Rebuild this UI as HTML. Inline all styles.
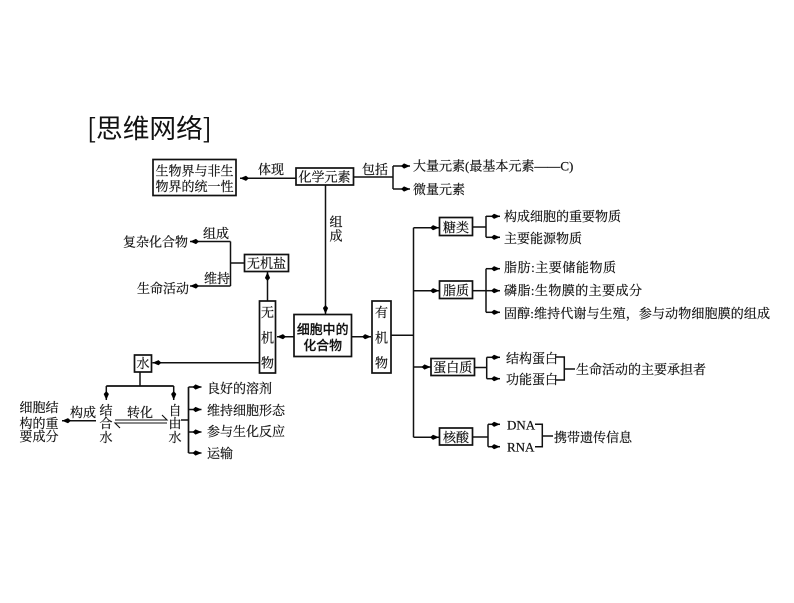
<!DOCTYPE html>
<html><head><meta charset="utf-8">
<style>
html,body{margin:0;padding:0;background:#fff;width:794px;height:603px;overflow:hidden}
svg{display:block;filter:blur(.3px)}
text{font-family:"Liberation Serif","Noto Serif CJK SC",serif;font-size:13px;fill:#111;stroke:#111;stroke-width:.2}
.l{stroke:#111;stroke-width:1.5;fill:none}
.b{stroke:#111;stroke-width:1.7;fill:#fff}
.m{text-anchor:middle}
</style></head><body>
<svg width="794" height="603" viewBox="0 0 794 603" xmlns="http://www.w3.org/2000/svg">
<defs><marker id="a" markerUnits="userSpaceOnUse" markerWidth="10" markerHeight="6" refX="9" refY="3" orient="auto"><path d="M0 3L3 0.4L9 3L3 5.6Z" fill="#000"/></marker></defs>

<text x="87" y="138" style="font-family:'Noto Sans CJK SC',sans-serif;font-size:26.7px;font-weight:400;stroke:none">[思维网络]</text>

<!-- boxes -->
<rect class="b" x="153" y="159.5" width="83" height="36"/>
<rect class="b" x="296" y="168" width="57.5" height="17"/>
<rect class="b" x="244.5" y="254.5" width="44" height="17"/>
<rect class="b" x="259.5" y="301" width="16" height="72"/>
<rect class="b" x="294" y="314.5" width="57.5" height="42"/>
<rect class="b" x="372" y="301" width="19" height="72"/>
<rect class="b" x="134.5" y="355" width="17" height="17"/>
<rect class="b" x="439.5" y="217.5" width="33" height="18"/>
<rect class="b" x="439.5" y="281" width="33" height="17.5"/>
<rect class="b" x="431" y="358.5" width="43.5" height="17"/>
<rect class="b" x="439.5" y="428" width="33" height="17"/>

<!-- connectors -->
<g class="l">
<path d="M296 178.3H240" marker-end="url(#a)"/>
<path d="M353.5 177H393"/>
<path d="M393 166V189"/>
<path d="M393 166H410" marker-end="url(#a)"/>
<path d="M393 189H410" marker-end="url(#a)"/>
<path d="M325.5 185V314" marker-end="url(#a)"/>
<path d="M244 263H230.5"/>
<path d="M230.5 241.5V286"/>
<path d="M230.5 241.5H190" marker-end="url(#a)"/>
<path d="M230.5 286H190" marker-end="url(#a)"/>
<path d="M267.5 301V272" marker-end="url(#a)"/>
<path d="M294 336.7H277" marker-end="url(#a)"/>
<path d="M352 336.7H371" marker-end="url(#a)"/>
<path d="M259 362.7H152.5" marker-end="url(#a)"/>
<path d="M140 372V386"/>
<path d="M106.3 386H173.7" style="stroke-width:1.7"/>
<path d="M106.3 386V400" marker-end="url(#a)"/>
<path d="M173.7 386V400" marker-end="url(#a)"/>
<path d="M96 420.7H62" marker-end="url(#a)"/>
<path d="M115 420H167L162 415" style="stroke-width:1.1"/>
<path d="M167 423H115L120 428" style="stroke-width:1.1"/>
<path d="M181 420H188.5"/>
<path d="M188.5 387V453" style="stroke-width:1.7"/>
<path d="M188.5 387H201.5" marker-end="url(#a)"/>
<path d="M188.5 409.5H201.5" marker-end="url(#a)"/>
<path d="M188.5 432H201.5" marker-end="url(#a)"/>
<path d="M188.5 453H201.5" marker-end="url(#a)"/>

<path d="M391 335.3H413.5"/>
<path d="M413.5 227.7V437.3"/>
<path d="M413.5 227.7H439" marker-end="url(#a)"/>
<path d="M413.5 290.7H439" marker-end="url(#a)"/>
<path d="M413.5 367H430.5" marker-end="url(#a)"/>
<path d="M413.5 437.3H439" marker-end="url(#a)"/>

<path d="M473 227H486"/>
<path d="M486 216V237.3"/>
<path d="M486 216.3H500" marker-end="url(#a)"/>
<path d="M486 237.3H500" marker-end="url(#a)"/>

<path d="M473 290.7H486"/>
<path d="M486 268.7V312.3"/>
<path d="M486 268.7H500" marker-end="url(#a)"/>
<path d="M486 290.7H500" marker-end="url(#a)"/>
<path d="M486 312.3H500" marker-end="url(#a)"/>

<path d="M474.5 367.5H486.7"/>
<path d="M486.7 357.3V378.7"/>
<path d="M486.7 357.3H500" marker-end="url(#a)"/>
<path d="M486.7 378.7H500" marker-end="url(#a)"/>
<path d="M556 357H564.3V380H556"/>
<path d="M564.3 369H575"/>

<path d="M473 437H488"/>
<path d="M488 424.3V446.7"/>
<path d="M488 424.3H500" marker-end="url(#a)"/>
<path d="M488 446.7H500" marker-end="url(#a)"/>
<path d="M535 424.3H542.3V446.7H535"/>
<path d="M542.3 436H553"/>
</g>

<!-- labels -->
<text class="m" x="194.5" y="175.5">生物界与非生</text>
<text class="m" x="194.5" y="191">物界的统一性</text>
<text class="m" x="324.5" y="181.5">化学元素</text>
<text x="258" y="174">体现</text>
<text x="362" y="174">包括</text>
<text x="413" y="170.5">大量元素(最基本元素——C)</text>
<text x="413" y="194">微量元素</text>
<text class="m" x="336" y="226.5">组</text>
<text class="m" x="336" y="240.5">成</text>
<text x="123" y="246.5">复杂化合物</text>
<text x="137" y="293">生命活动</text>
<text x="203" y="238">组成</text>
<text x="204" y="283">维持</text>
<text class="m" x="266.5" y="268">无机盐</text>
<text class="m" x="267.5" y="317">无</text>
<text class="m" x="267.5" y="342.5">机</text>
<text class="m" x="267.5" y="367.5">物</text>
<text class="m" x="322.7" y="334" style="font-family:'Noto Sans CJK SC',sans-serif;font-weight:500;font-size:12.9px">细胞中的</text>
<text class="m" x="322.7" y="350" style="font-family:'Noto Sans CJK SC',sans-serif;font-weight:500;font-size:12.9px">化合物</text>
<text class="m" x="381.5" y="317">有</text>
<text class="m" x="381.5" y="342.5">机</text>
<text class="m" x="381.5" y="367.5">物</text>
<text class="m" x="143" y="368">水</text>
<text class="m" x="106" y="415">结</text>
<text class="m" x="106" y="428">合</text>
<text class="m" x="106" y="442">水</text>
<text class="m" x="175" y="415">自</text>
<text class="m" x="175" y="428">由</text>
<text class="m" x="175" y="442">水</text>
<text x="70" y="417">构成</text>
<text x="127" y="417">转化</text>
<text class="m" x="39" y="412">细胞结</text>
<text class="m" x="39" y="428">构的重</text>
<text class="m" x="39" y="441">要成分</text>
<text x="207" y="393">良好的溶剂</text>
<text x="207" y="415">维持细胞形态</text>
<text x="207" y="436">参与生化反应</text>
<text x="207" y="458">运输</text>
<text class="m" x="456" y="232">糖类</text>
<text class="m" x="456" y="295">脂质</text>
<text class="m" x="452.7" y="372">蛋白质</text>
<text class="m" x="456" y="442">核酸</text>
<text x="504" y="221">构成细胞的重要物质</text>
<text x="504" y="243">主要能源物质</text>
<text x="504" y="272" textLength="112">脂肪:主要储能物质</text>
<text x="504" y="295" textLength="138">磷脂:生物膜的主要成分</text>
<text x="504" y="318" textLength="266">固醇:维持代谢与生殖，参与动物细胞膜的组成</text>
<text x="506" y="363">结构蛋白</text>
<text x="506" y="384">功能蛋白</text>
<text x="576" y="374">生命活动的主要承担者</text>
<text x="507" y="429.5">DNA</text>
<text x="507" y="451.5">RNA</text>
<text x="554" y="442">携带遗传信息</text>
</svg>
</body></html>
